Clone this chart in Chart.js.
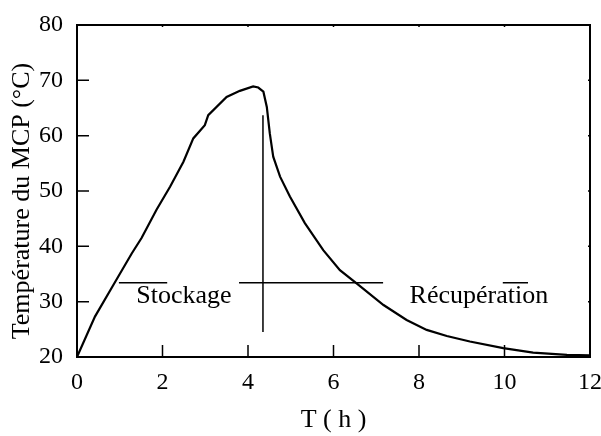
<!DOCTYPE html>
<html>
<head>
<meta charset="utf-8">
<script src="https://cdn.jsdelivr.net/npm/chart.js@4"></script>
<style>
html,body{margin:0;padding:0;background:#fff;}
canvas{display:block;}
</style>
</head>
<body>
<canvas id="c" width="601" height="436"></canvas>
<script>
// Time (h)
const timeHours = [0, 0.42, 0.85, 1.28, 1.51, 1.86, 2.18, 2.49, 2.72, 2.99, 3.07, 3.50, 3.81, 4.12, 4.24, 4.36, 4.44, 4.51, 4.59, 4.75, 4.98, 5.33, 5.76, 6.15, 6.54, 7.17, 7.71, 8.18, 8.65, 9.19, 9.97, 10.67, 11.46, 12];
// Température du MCP (°C)
const tempMCP = [20, 27.3, 33.0, 38.7, 41.5, 46.6, 50.8, 55.3, 59.5, 61.9, 63.7, 67.0, 68.1, 68.9, 68.7, 67.95, 65.2, 60.4, 56.2, 52.6, 49.0, 44.2, 39.3, 35.7, 33.3, 29.4, 26.7, 24.9, 23.8, 22.8, 21.6, 20.8, 20.4, 20.3];
// axis tick values
const xTickValues = [0, 2, 4, 6, 8, 10, 12];
const yTickValues = [20, 30, 40, 50, 60, 70, 80];
// annotation segments in data units [x1, y1, x2, y2]
const annotSegments = [[0.98, 33.4, 2.11, 33.4], [3.79, 33.4, 7.16, 33.4], [4.35, 63.7, 4.35, 24.5], [9.96, 33.4, 10.55, 33.4]];
// annotation labels
const annotTexts = ['Stockage', 'Récupération'];
const annotTextX = [2.5, 9.4];
const annotTextY = [29.8, 29.8];
const yTitleText = 'Température du MCP (°C)';

const SERIF = '"Liberation Serif", "DejaVu Serif", serif';

const framePlugin = {
  id: 'frame',
  afterDatasetsDraw(chart) {
    const ctx = chart.ctx;
    const a = chart.chartArea;
    const xs = chart.scales.x, ys = chart.scales.y;
    ctx.save();
    ctx.strokeStyle = '#000';
    ctx.lineWidth = 2;
    ctx.strokeRect(a.left, a.top, a.right - a.left, a.bottom - a.top);
    ctx.lineWidth = 1.5;
    ctx.beginPath();
    xTickValues.forEach(v => {
      const px = xs.getPixelForValue(v);
      ctx.moveTo(px, a.bottom); ctx.lineTo(px, a.bottom - 12);
      ctx.moveTo(px, a.top); ctx.lineTo(px, a.top + 2);
    });
    yTickValues.forEach(v => {
      const py = ys.getPixelForValue(v);
      ctx.moveTo(a.left, py); ctx.lineTo(a.left + 12, py);
      ctx.moveTo(a.right, py); ctx.lineTo(a.right - 2, py);
    });
    ctx.stroke();
    // annotation lines
    ctx.lineWidth = 1.5;
    ctx.beginPath();
    annotSegments.forEach(s => {
      ctx.moveTo(xs.getPixelForValue(s[0]), ys.getPixelForValue(s[1]));
      ctx.lineTo(xs.getPixelForValue(s[2]), ys.getPixelForValue(s[3]));
    });
    ctx.stroke();
    ctx.fillStyle = '#000';
    ctx.font = '26px ' + SERIF;
    ctx.textAlign = 'center';
    ctx.textBaseline = 'alphabetic';
    annotTexts.forEach((t, i) => {
      ctx.fillText(t, xs.getPixelForValue(annotTextX[i]), ys.getPixelForValue(annotTextY[i]));
    });
    // y axis title
    ctx.translate(22, (a.top + a.bottom) / 2 + 10);
    ctx.rotate(-Math.PI / 2);
    ctx.textBaseline = 'middle';
    ctx.fillText(yTitleText, 0, 0);
    ctx.restore();
  }
};

new Chart(document.getElementById('c'), {
  type: 'line',
  data: {
    datasets: [{
      data: timeHours.map((x, i) => ({x: x, y: tempMCP[i]})),
      borderColor: '#000',
      borderWidth: 2.2,
      pointRadius: 0,
      tension: 0,
      fill: false
    }]
  },
  options: {
    responsive: false,
    animation: false,
    devicePixelRatio: 1,
    layout: {padding: {top: 25, right: 11, left: 0, bottom: 0}},
    plugins: {legend: {display: false}, tooltip: {enabled: false}},
    scales: {
      x: {
        type: 'linear', min: 0, max: 12,
        afterBuildTicks(s) { s.ticks = xTickValues.map(v => ({value: v})); },
        afterFit(s) { s.height = 79; s.paddingLeft = 0; s.paddingRight = 0; },
        grid: {display: false, drawTicks: false},
        border: {display: false},
        ticks: {color: '#000', padding: 11, font: {family: SERIF, size: 24}, maxRotation: 0},
        title: {display: true, text: 'T ( h )', color: '#000', font: {family: SERIF, size: 26}, padding: {top: 0, bottom: 0}}
      },
      y: {
        type: 'linear', min: 20, max: 80,
        afterBuildTicks(s) { s.ticks = yTickValues.map(v => ({value: v})); },
        afterFit(s) { s.width = 77; s.paddingTop = 0; s.paddingBottom = 0; },
        grid: {display: false, drawTicks: false},
        border: {display: false},
        ticks: {color: '#000', padding: 14, font: {family: SERIF, size: 24}},
        title: {display: false}
      }
    }
  },
  plugins: [framePlugin]
});
</script>
</body>
</html>
